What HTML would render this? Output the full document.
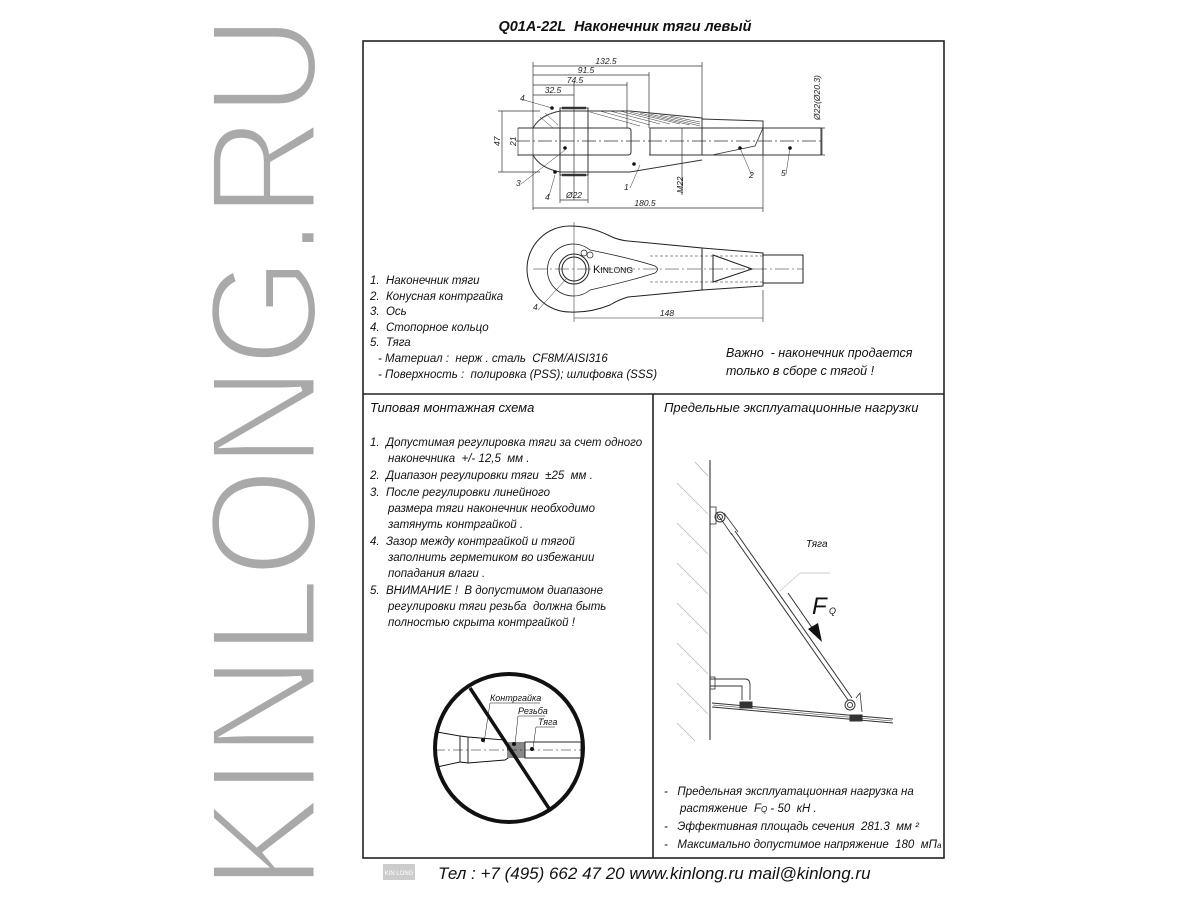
<!DOCTYPE html>
<html><head><meta charset="utf-8"><style>
html,body{margin:0;padding:0;background:#fff;width:1200px;height:900px;overflow:hidden}
svg{display:block}
text{font-family:"Liberation Sans","DejaVu Sans",sans-serif;white-space:pre}
.it{font-style:italic;font-size:11.5px;fill:#111}
.dim{font-style:italic;font-size:8.5px;fill:#222}
</style></head><body>
<svg width="1200" height="900" viewBox="0 0 1200 900" xmlns="http://www.w3.org/2000/svg">
<!-- big watermark -->
<text transform="translate(316,890) rotate(-90)" font-size="152" fill="#a9a9a9" stroke="#fff" stroke-width="5" textLength="875" lengthAdjust="spacingAndGlyphs">KINLONG.RU</text>

<!-- title -->
<text x="625" y="31" text-anchor="middle" font-size="14.5" font-weight="bold" font-style="italic" fill="#111">Q01A-22L  Наконечник тяги левый</text>

<!-- frame -->
<rect x="363" y="41" width="581" height="817" fill="none" stroke="#222" stroke-width="1.6"/>
<line x1="363" y1="394" x2="944" y2="394" stroke="#222" stroke-width="1.6"/>
<line x1="653" y1="394" x2="653" y2="858" stroke="#222" stroke-width="1.6"/>

<!-- TOP VIEW -->
<g fill="none" stroke="#333" stroke-width="0.7">
 <line x1="533" y1="66" x2="702" y2="66"/><line x1="533" y1="75" x2="649" y2="75"/>
 <line x1="533" y1="85" x2="627" y2="85"/><line x1="533" y1="95" x2="574" y2="95"/>
 <line x1="533" y1="62" x2="533" y2="210"/><line x1="702" y1="62" x2="702" y2="118"/>
 <line x1="649" y1="72" x2="649" y2="128"/><line x1="627" y1="82" x2="627" y2="128"/>
 <line x1="574" y1="82" x2="574" y2="200"/>
 <line x1="502" y1="111" x2="502" y2="172"/><line x1="498" y1="111" x2="540" y2="111"/><line x1="498" y1="172" x2="540" y2="172"/>
 <line x1="518" y1="128" x2="518" y2="156"/>
 <line x1="533" y1="208" x2="763" y2="208"/><line x1="763" y1="155" x2="763" y2="212"/>
 <line x1="560" y1="200" x2="588" y2="200"/><line x1="560" y1="172" x2="560" y2="203"/><line x1="588" y1="172" x2="588" y2="203"/>
 <line x1="822" y1="128" x2="822" y2="155"/><line x1="805" y1="128" x2="825" y2="128"/><line x1="805" y1="155" x2="825" y2="155"/>
 <line x1="682" y1="128" x2="682" y2="195"/>
 <line x1="516" y1="141" x2="822" y2="141" stroke-dasharray="14 3 2 3"/>
 <path d="M560 111 L630 111 L702 118 L702 155 M560 172 L630 172 L702 160" stroke-width="1"/>
 <path d="M560 111 Q540 115 533 128 M560 172 Q540 168 533 155" stroke-width="1"/>
 <rect x="560" y="108" width="28" height="67" stroke-width="1"/>
 <path d="M562 108 L586 108 M562 175 L586 175" stroke-width="2.5"/>
 <path d="M518 128 L628 128 Q631 128 631 131 L631 152 Q631 155 628 155 L518 155" stroke-width="1"/>
 <rect x="650" y="128" width="113" height="27" stroke-width="1"/>
 <path d="M702 119 L763 121 L763 155 L702 155 Z" stroke-width="1"/>
 <path d="M712 155 L755 146 L763 128" stroke-width="0.8"/>
 <rect x="763" y="128" width="58" height="27" stroke-width="1"/>
 <line x1="649" y1="155" x2="760" y2="155" stroke-dasharray="3 2"/>
 <path d="M590 112 L640 126 M600 111 L650 125 M610 111 L660 124 M620 111 L670 124 M630 112 L680 124 M640 113 L690 125 M650 114 L700 126 M660 115 L700 124 M670 116 L700 122 M540 117 L553 128 M545 113 L558 125" stroke-width="0.5"/>
 <path d="M524 100 L552 108 M549 196 L555 175 M521 184 L565 150 M630 188 L640 165 M752 176 L740 148 M786 174 L790 148" stroke-width="0.5"/>
</g>
<g fill="#111"><circle cx="552" cy="108" r="1.8"/><circle cx="555" cy="172" r="1.8"/><circle cx="565" cy="148" r="1.8"/><circle cx="634" cy="164" r="1.8"/><circle cx="740" cy="148" r="1.8"/><circle cx="790" cy="148" r="1.8"/></g>
<g class="dim">
 <text x="606" y="64" text-anchor="middle">132.5</text><text x="586" y="73" text-anchor="middle">91.5</text>
 <text x="575" y="83" text-anchor="middle">74.5</text><text x="553" y="93" text-anchor="middle">32.5</text>
 <text x="645" y="206" text-anchor="middle">180.5</text><text x="574" y="198" text-anchor="middle">Ø22</text>
 <text x="520" y="101">4</text><text x="545" y="200">4</text><text x="516" y="186">3</text><text x="624" y="190">1</text><text x="749" y="178">2</text><text x="781" y="176">5</text>
 <text transform="translate(500,146) rotate(-90)">47</text><text transform="translate(516,146) rotate(-90)">21</text>
 <text transform="translate(683,193) rotate(-90)">M22</text>
 <text transform="translate(820,120) rotate(-90)">Ø22(Ø20.3)</text>
 <text x="667" y="316" text-anchor="middle">148</text><text x="533" y="310">4</text>
</g>

<!-- SECOND VIEW -->
<g fill="none" stroke="#222" stroke-width="1">
 <path d="M628 241 L702 248 L702 290 L628 297 Q618 300 610 305 Q590 313 570 312 A43 43 0 0 1 570 226 Q590 226 610 236 Q618 240 628 241 Z"/>
 <path d="M590 250 Q630 258 655 266 Q660 269 655 273 Q630 281 590 290 A26 26 0 1 1 590 250 Z" stroke-width="0.8"/>
 <circle cx="574" cy="269" r="15"/><circle cx="574" cy="269" r="12"/>
 <path d="M702 248 L763 253 L763 286 L702 290"/>
 <path d="M713 255 L713 282 L752 269 Z"/>
 <rect x="763" y="255" width="40" height="28"/>
 <line x1="533" y1="269" x2="803" y2="269" stroke-width="0.5" stroke-dasharray="14 3 2 3"/>
 <line x1="574" y1="222" x2="574" y2="322" stroke-width="0.5"/>
 <path d="M650 256 L763 256 M650 282 L763 282" stroke-width="0.5" stroke-dasharray="3 2"/>
 <line x1="574" y1="318" x2="763" y2="318" stroke-width="0.6"/><line x1="763" y1="290" x2="763" y2="322" stroke-width="0.6"/>
 <path d="M538 310 L566 279" stroke-width="0.5"/>
 <circle cx="584" cy="253" r="3" stroke-width="0.7"/><circle cx="590" cy="255" r="3" stroke-width="0.7"/>
</g>
<text x="593" y="273" font-size="11" fill="#111">K<tspan font-size="8.5">INLONG</tspan></text>

<!-- legend -->
<g class="it">
 <text x="370" y="284">1.  Наконечник тяги</text>
 <text x="370" y="300">2.  Конусная контргайка</text>
 <text x="370" y="315">3.  Ось</text>
 <text x="370" y="331">4.  Стопорное кольцо</text>
 <text x="370" y="346">5.  Тяга</text>
 <text x="378" y="362">- Материал :  нерж . сталь  CF8M/AISI316</text>
 <text x="378" y="378">- Поверхность :  полировка (PSS); шлифовка (SSS)</text>
</g>
<g font-style="italic" font-size="12.5" fill="#111">
 <text x="726" y="357">Важно  - наконечник продается</text>
 <text x="726" y="375">только в сборе с тягой !</text>
</g>

<text x="370" y="412" font-style="italic" font-size="13" fill="#111">Типовая монтажная схема</text>
<text x="664" y="412" font-style="italic" font-size="13" fill="#111">Предельные эксплуатационные нагрузки</text>

<g class="it" font-size="11">
 <text x="370" y="446">1.  Допустимая регулировка тяги за счет одного</text>
 <text x="388" y="462">наконечника  +/- 12,5  мм .</text>
 <text x="370" y="479">2.  Диапазон регулировки тяги  ±25  мм .</text>
 <text x="370" y="496">3.  После регулировки линейного</text>
 <text x="388" y="512">размера тяги наконечник необходимо</text>
 <text x="388" y="528">затянуть контргайкой .</text>
 <text x="370" y="545">4.  Зазор между контргайкой и тягой</text>
 <text x="388" y="561">заполнить герметиком во избежании</text>
 <text x="388" y="577">попадания влаги .</text>
 <text x="370" y="594">5.  ВНИМАНИЕ !  В допустимом диапазоне</text>
 <text x="388" y="610">регулировки тяги резьба  должна быть</text>
 <text x="388" y="626">полностью скрыта контргайкой !</text>
</g>

<!-- prohibited circle -->
<g fill="none" stroke="#111">
 <path d="M437 732 L460 736 L460 762 L437 767" stroke-width="0.9"/>
 <path d="M460 736 L468 737 L505 740 L508 750 L508 758 L505 760 L468 763 L460 762" stroke-width="0.9"/>
 <line x1="468" y1="737" x2="468" y2="763" stroke-width="0.9"/>
 <rect x="508" y="742" width="17" height="16" fill="#888" stroke="none"/>
 <rect x="525" y="742" width="56" height="16" stroke-width="0.9"/>
 <line x1="435" y1="750" x2="581" y2="750" stroke-width="0.5" stroke-dasharray="10 3 2 3"/>
 <circle cx="509" cy="748" r="74" stroke-width="4"/>
 <line x1="470" y1="688" x2="550" y2="810" stroke-width="3.5"/>
 <path d="M484 743 L490 703 L540 703 M515 745 L518 716 L545 716 M533 748 L536 727 L555 727" stroke-width="0.5"/>
</g>
<g fill="#111"><circle cx="483" cy="740" r="2"/><circle cx="514" cy="744" r="2"/><circle cx="532" cy="749" r="2"/></g>
<g font-style="italic" font-size="9" fill="#111">
 <text x="490" y="701">Контргайка</text><text x="518" y="714">Резьба</text><text x="538" y="725">Тяга</text>
</g>

<!-- load diagram -->
<g fill="none" stroke="#333">
 <line x1="710" y1="460" x2="710" y2="740" stroke-width="1.1"/>
 <path d="M695 462 L708 476 M677 483 L708 514 M677 523 L708 554 M677 563 L708 594 M677 603 L708 634 M677 643 L708 674 M677 683 L708 714 M677 723 L695 741" stroke="#aaa" stroke-width="0.6"/>
 <rect x="710" y="507" width="6" height="17" stroke-width="0.8"/>
 <circle cx="720" cy="517" r="5" stroke-width="1"/><circle cx="720" cy="517" r="2.5"/>
 <path d="M716 512 L732 535 M724 513 L738 532" stroke-width="0.8"/>
 <path d="M731 533 L848 700 M735 531 L852 698" stroke-width="1"/>
 <circle cx="850" cy="705" r="5" stroke-width="1"/><circle cx="850" cy="705" r="2.5"/>
 <path d="M856 698 L860 693 L862 712" stroke-width="0.8"/>
 <path d="M710 679 L745 679 Q750 679 750 685 L750 700 M710 686 L742 686 L742 700" stroke-width="0.9"/>
 <rect x="710" y="677" width="5" height="12" stroke-width="0.8"/>
 <path d="M712 703 L893 719 M712 707 L893 723" stroke-width="1"/>
 <line x1="713" y1="705" x2="892" y2="721" stroke-width="0.5"/>
 <rect x="740" y="702" width="12" height="6" fill="#333"/>
 <rect x="850" y="715" width="12" height="6" fill="#333"/>
 <line x1="788" y1="593" x2="815" y2="632" stroke-width="1"/>
 <path d="M780 591 L800 573 L830 573" stroke="#999" stroke-width="0.5"/>
</g>
<polygon points="822,642 808,629 818,623" fill="#111"/>
<text x="806" y="547" font-style="italic" font-size="10" fill="#111">Тяга</text>
<text x="812" y="614" font-style="italic" font-size="24" fill="#111">F</text>
<text x="829" y="614" font-style="italic" font-size="9" fill="#111">Q</text>

<g class="it" font-size="11">
 <text x="664" y="795">-   Предельная эксплуатационная нагрузка на</text>
 <text x="680" y="812">растяжение  F<tspan font-size="8">Q</tspan> - 50  кН .</text>
 <text x="664" y="830">-   Эффективная площадь сечения  281.3  мм ²</text>
 <text x="664" y="848">-   Максимально допустимое напряжение  180  мП<tspan font-size="8">а</tspan></text>
</g>

<rect x="383" y="864" width="32" height="16" fill="#ccc"/>
<text x="399" y="875" text-anchor="middle" font-size="6" fill="#fff">KIN LONG</text>
<text x="438" y="879" font-style="italic" font-size="17" fill="#111">Тел : +7 (495) 662 47 20 www.kinlong.ru mail@kinlong.ru</text>
</svg>
</body></html>
